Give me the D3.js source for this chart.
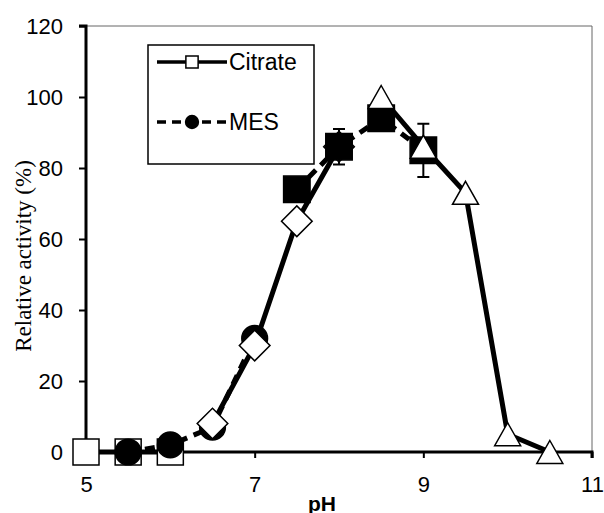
<!DOCTYPE html>
<html>
<head>
<meta charset="utf-8">
<script src="https://cdn.jsdelivr.net/npm/d3@7"></script>
<style>
  body { margin: 0; background: #fff; }
  svg { display: block; }
</style>
</head>
<body>
<svg id="chart" width="604" height="513"></svg>
<script>
// values (pH, relative activity %)
const citratePH = [5, 5.5, 6];
const citrateVal = [0, 0, 0];
const mesPH = [5.5, 6, 6.5, 7];
const mesVal = [0, 2, 7, 32];
const diamondPH = [6.5, 7, 7.5, 8];
const diamondVal = [8, 30, 65, 86];
const fsquarePH = [7.5, 8, 8.5, 9];
const fsquareVal = [74, 86, 94, 85];
const fsquareErr = [0, 5, 0, 7.5];
const trianglePH = [8.5, 9, 9.5, 10, 10.5];
const triangleVal = [100, 86, 73, 5, 0];

const xTicks = [5, 7, 9, 11];
const yTicks = [0, 20, 40, 60, 80, 100, 120];

const svg = d3.select("#chart");
const x = d3.scaleLinear().domain([5, 11]).range([86, 592]);
const y = d3.scaleLinear().domain([0, 120]).range([452, 26]);

const toPts = (xs, ys) => xs.map((d, i) => ({ x: d, y: ys[i] }));

// plot frame (thin grey top/right)
svg.append("path")
  .attr("d", `M${x(5)},${y(120)}H${x(11)}V${y(0)}`)
  .attr("fill", "none")
  .attr("stroke", "#666")
  .attr("stroke-width", 1);

// axes
const fontSans = "Liberation Sans, Arial, sans-serif";
const yAxis = svg.append("g")
  .attr("transform", `translate(${x(5)},0)`)
  .call(d3.axisLeft(y).tickValues(yTicks).tickSize(7).tickPadding(16));
const xAxis = svg.append("g")
  .attr("transform", `translate(0,${y(0)})`)
  .call(d3.axisBottom(x).tickValues(xTicks).tickFormat(d3.format("d")).tickSize(6).tickPadding(18));

[yAxis, xAxis].forEach((g) => {
  g.select(".domain").attr("stroke", "#000").attr("stroke-width", 3);
  g.selectAll(".tick line").attr("stroke", "#000").attr("stroke-width", 2);
  g.selectAll(".tick text")
    .attr("fill", "#000")
    .style("font-family", fontSans)
    .style("font-size", "22px");
});
yAxis.select(".domain").attr("d", `M-7,${y(120)}H0V${y(0)}`);
xAxis.select(".domain").attr("d", `M${x(5)},0H${x(11)}V6`);

// axis titles
svg.append("text")
  .attr("transform", "translate(31,256) rotate(-90)")
  .attr("text-anchor", "middle")
  .style("font-family", "Liberation Serif, Times New Roman, serif")
  .style("font-size", "23px")
  .text("Relative activity (%)");

svg.append("text")
  .attr("x", 322)
  .attr("y", 511)
  .attr("text-anchor", "middle")
  .style("font-family", fontSans)
  .style("font-weight", "bold")
  .style("font-size", "21px")
  .text("pH");

const line = d3.line().x((d) => x(d.x)).y((d) => y(d.y));

// Excel-like triangle: 26 wide, 23 tall, centred on its box
const triangle = {
  draw(ctx) {
    ctx.moveTo(0, -11.5);
    ctx.lineTo(13, 11.5);
    ctx.lineTo(-13, 11.5);
    ctx.closePath();
  },
};

function drawLine(pts, dashed) {
  svg.append("path")
    .datum(pts)
    .attr("d", line)
    .attr("fill", "none")
    .attr("stroke", "#000")
    .attr("stroke-width", 5)
    .attr("stroke-linejoin", "round")
    .attr("stroke-dasharray", dashed ? "10,7" : null);
}

function drawMarkers(pts, type, size, fill) {
  svg.append("g")
    .selectAll("path")
    .data(pts)
    .join("path")
    .attr("transform", (d) => `translate(${x(d.x)},${y(d.y)})${type === "diamond" ? " rotate(45)" : ""}`)
    .attr("d", d3.symbol().type(type === "diamond" ? d3.symbolSquare : type).size(size))
    .attr("fill", fill)
    .attr("stroke", "#000")
    .attr("stroke-width", 1.5);
}

// citrate
const citrate = toPts(citratePH, citrateVal);
drawLine(citrate, false);
drawMarkers(citrate, d3.symbolSquare, 676, "#fff");

// MES
const mes = toPts(mesPH, mesVal);
drawLine(mes, true);
drawMarkers(mes, d3.symbolCircle, 520, "#000");

// diamonds
const dia = toPts(diamondPH, diamondVal);
drawLine(dia, false);
drawMarkers(dia, "diamond", 470, "#fff");

// filled squares with error bars
const fsq = toPts(fsquarePH, fsquareVal);
drawLine(fsq, true);
const errG = svg.append("g").attr("stroke", "#000").attr("stroke-width", 2);
fsq.forEach((d, i) => {
  const e = fsquareErr[i];
  if (!e) return;
  const cx = x(d.x);
  errG.append("path")
    .attr("fill", "none")
    .attr("d", `M${cx},${y(d.y - e)}V${y(d.y + e)}M${cx - 6},${y(d.y + e)}H${cx + 6}M${cx - 6},${y(d.y - e)}H${cx + 6}`);
});
drawMarkers(fsq, d3.symbolSquare, 700, "#000");

// triangles
const tri = toPts(trianglePH, triangleVal);
drawLine(tri, false);
drawMarkers(tri, triangle, 1, "#fff");

// legend
const lg = svg.append("g");
lg.append("rect")
  .attr("x", 148).attr("y", 45)
  .attr("width", 166).attr("height", 119)
  .attr("fill", "#fff")
  .attr("stroke", "#000")
  .attr("stroke-width", 1.5);

const legendItems = [
  { name: "Citrate", y: 62, dashed: false, sym: d3.symbolSquare, fill: "#fff", size: 150 },
  { name: "MES", y: 122, dashed: true, sym: d3.symbolCircle, fill: "#000", size: 130 },
];
legendItems.forEach((it) => {
  lg.append("line")
    .attr("x1", 157).attr("x2", 227)
    .attr("y1", it.y).attr("y2", it.y)
    .attr("stroke", "#000")
    .attr("stroke-width", 3.5)
    .attr("stroke-dasharray", it.dashed ? "9,6" : null);
  lg.append("path")
    .attr("transform", `translate(192,${it.y})`)
    .attr("d", d3.symbol().type(it.sym).size(it.size))
    .attr("fill", it.fill)
    .attr("stroke", "#000")
    .attr("stroke-width", 1.5);
  lg.append("text")
    .attr("x", 229).attr("y", it.y + 8)
    .style("font-family", fontSans)
    .style("font-size", "23px")
    .text(it.name);
});
</script>
</body>
</html>
